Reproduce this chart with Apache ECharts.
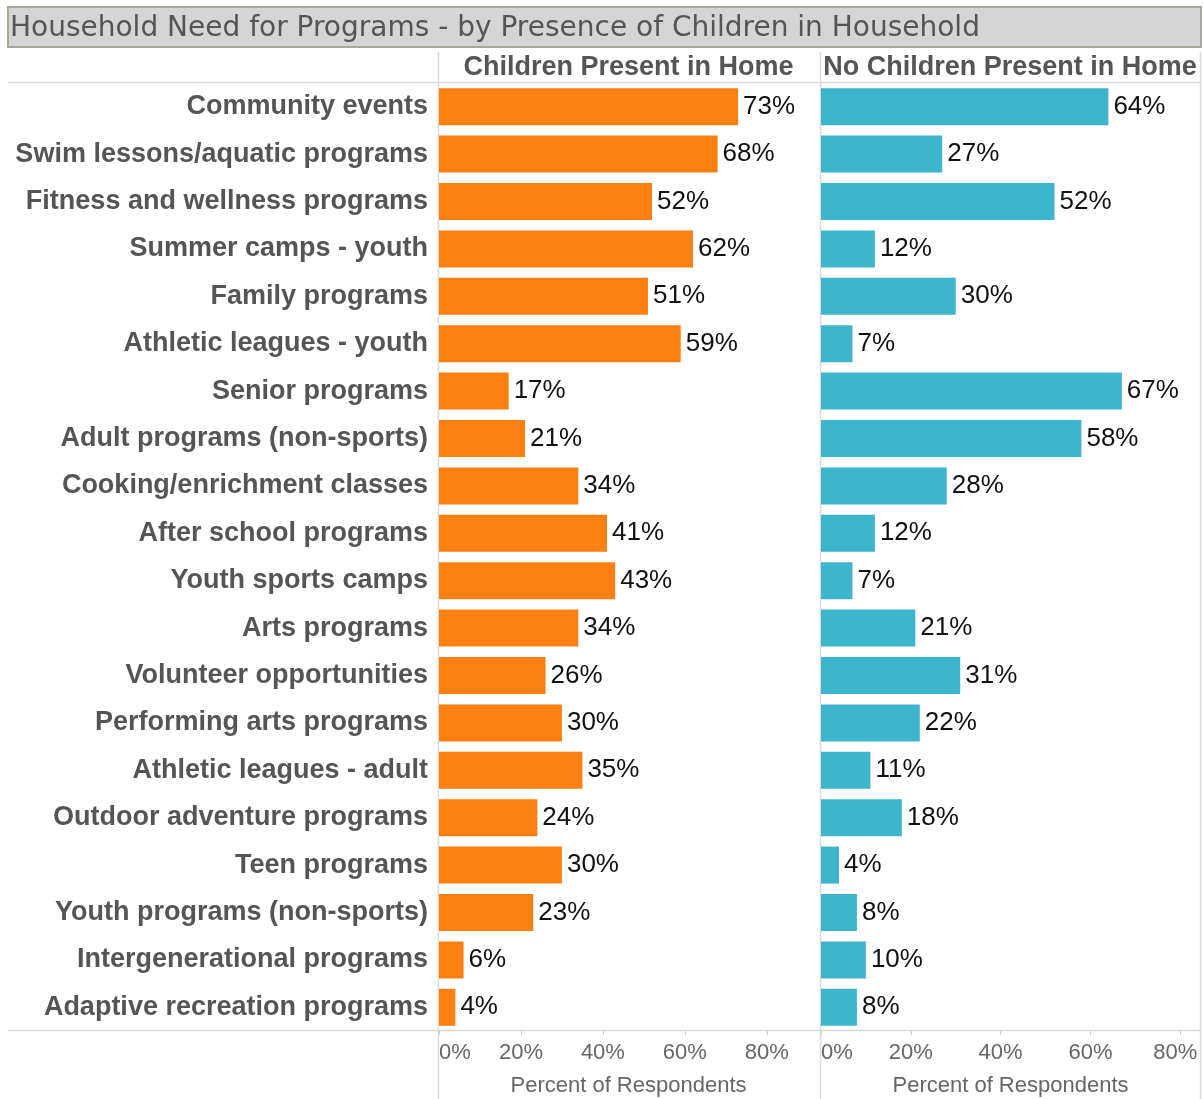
<!DOCTYPE html>
<html>
<head>
<meta charset="utf-8">
<script src="https://cdn.jsdelivr.net/npm/echarts@6/dist/echarts.min.js"></script>
<style>
  html, body { margin: 0; padding: 0; background: #fff; }
  #chart { width: 1203px; height: 1099px; }
</style>
</head>
<body>
<div id="chart"></div>
<script>
const titleText = 'Household Need for Programs - by Presence of Children in Household'
const panelTitles = ['Children Present in Home', 'No Children Present in Home']
const categories = [
  'Community events', 'Swim lessons/aquatic programs', 'Fitness and wellness programs',
  'Summer camps - youth', 'Family programs', 'Athletic leagues - youth', 'Senior programs',
  'Adult programs (non-sports)', 'Cooking/enrichment classes', 'After school programs',
  'Youth sports camps', 'Arts programs', 'Volunteer opportunities', 'Performing arts programs',
  'Athletic leagues - adult', 'Outdoor adventure programs', 'Teen programs',
  'Youth programs (non-sports)', 'Intergenerational programs', 'Adaptive recreation programs'
]
const withChildren = [73, 68, 52, 62, 51, 59, 17, 21, 34, 41, 43, 34, 26, 30, 35, 24, 30, 23, 6, 4]
const noChildren = [64, 27, 52, 12, 30, 7, 67, 58, 28, 12, 7, 21, 31, 22, 11, 18, 4, 8, 10, 8]
const tickValues = [0, 20, 40, 60, 80]
const axisTitle = 'Percent of Respondents'

const font = "'Liberation Sans', Arial, sans-serif"
const gridTop = 83
const gridHeight = 948
const panels = [
  { left: 439, width: 379, max: 92.5, color: '#fc7f12', data: withChildren },
  { left: 821, width: 379, max: 84.4, color: '#3db5cd', data: noChildren }
]

const chart = echarts.init(document.getElementById('chart'))

function xAxisFor(i) {
  return {
    type: 'value',
    gridIndex: i,
    min: 0,
    max: panels[i].max,
    axisLine: { show: false },
    splitLine: { show: false },
    axisTick: {
      show: true,
      customValues: tickValues,
      length: 4,
      lineStyle: { color: '#cfcfcf' }
    },
    axisLabel: {
      customValues: tickValues,
      alignMinLabel: 'left',
      // last label of the right panel is nudged left so it stays inside
      formatter: v => (i === 1 && v === 80) ? '{e|80%}' : v + '%',
      rich: { e: { padding: [0, 10, 0, 0], color: '#666', fontFamily: font, fontSize: 22 } },
      color: '#666',
      fontFamily: font,
      fontSize: 22,
      margin: 11
    },
    name: axisTitle,
    nameLocation: 'middle',
    nameGap: 44,
    nameTextStyle: { color: '#666', fontFamily: font, fontSize: 22 }
  }
}

function yAxisFor(i) {
  return {
    type: 'category',
    gridIndex: i,
    data: categories,
    inverse: true,
    axisLine: { show: false },
    axisTick: { show: false },
    splitLine: { show: false },
    axisLabel: {
      show: i === 0,
      color: '#555',
      fontFamily: font,
      fontWeight: 'bold',
      fontSize: 27,
      margin: 11
    }
  }
}

function seriesFor(i) {
  return {
    type: 'bar',
    xAxisIndex: i,
    yAxisIndex: i,
    data: panels[i].data,
    barWidth: 37,
    itemStyle: { color: panels[i].color },
    label: {
      show: true,
      position: 'right',
      distance: 5,
      formatter: '{c}%',
      color: '#111',
      fontFamily: font,
      fontSize: 26
    },
    silent: true
  }
}

const lineStyle = { stroke: '#dadada', lineWidth: 1.5 }

chart.setOption({
  animation: false,
  grid: panels.map(p => ({
    left: p.left, top: gridTop, width: p.width, height: gridHeight,
    outerBoundsMode: 'none'
  })),
  xAxis: [xAxisFor(0), xAxisFor(1)],
  yAxis: [yAxisFor(0), yAxisFor(1)],
  series: [seriesFor(0), seriesFor(1)],
  graphic: [
    {
      type: 'rect',
      shape: { x: 8, y: 7, width: 1193, height: 40 },
      style: { fill: '#d5d5d5', stroke: '#aba798', lineWidth: 2 }
    },
    {
      type: 'text',
      x: 10, y: 29,
      style: {
        text: titleText, fill: '#555', font: "28px 'DejaVu Sans', sans-serif",
        textVerticalAlign: 'middle'
      }
    },
    {
      type: 'text',
      x: 628.5, y: 68,
      style: {
        text: panelTitles[0], fill: '#555', font: 'bold 27px ' + font,
        textAlign: 'center', textVerticalAlign: 'middle'
      }
    },
    {
      type: 'text',
      x: 1010, y: 68,
      style: {
        text: panelTitles[1], fill: '#555', font: 'bold 27px ' + font,
        textAlign: 'center', textVerticalAlign: 'middle'
      }
    },
    { type: 'line', shape: { x1: 8, y1: 82.5, x2: 1201, y2: 82.5 }, style: lineStyle },
    { type: 'line', shape: { x1: 8, y1: 1030.5, x2: 1201, y2: 1030.5 }, style: lineStyle },
    { type: 'line', shape: { x1: 438.5, y1: 52, x2: 438.5, y2: 1099 }, style: lineStyle },
    { type: 'line', shape: { x1: 820.5, y1: 52, x2: 820.5, y2: 1099 }, style: lineStyle },
    { type: 'line', shape: { x1: 1200.5, y1: 52, x2: 1200.5, y2: 1099 }, style: lineStyle }
  ]
})
</script>
</body>
</html>
